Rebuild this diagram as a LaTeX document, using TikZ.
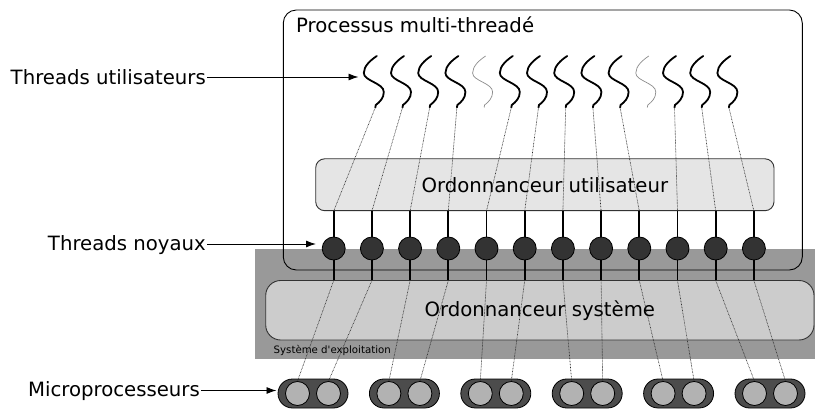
\documentclass[tikz,border=0pt]{standalone}
\usepackage{fontspec}
\setmainfont{DejaVu Sans}
\newfontfamily\rawsans{DejaVu Sans}[Ligatures=TeXOff]
\usetikzlibrary{arrows.meta}
\begin{document}
\begin{tikzpicture}[x=1pt,y=-1pt,
  lbl/.style={font=\fontsize{19.7}{24}\selectfont, inner sep=1pt},
  small/.style={font=\rawsans\fontsize{10.2}{12}\selectfont, inner sep=0pt},
  ptr/.style={-{Latex[length=10pt,width=7pt]}, line width=0.9pt},
  stem/.style={line width=1.8pt},
  dots/.style={line width=0.6pt, dash pattern=on 0.7pt off 0.8pt, black!85},
  thr/.style={line width=1.8pt, line cap=round},
  ghost/.style={line width=0.7pt, black!45},
  kball/.style={circle, draw=black, line width=0.8pt, fill=black!80, minimum size=23pt, inner sep=0pt},
  pillbox/.style={rectangle, draw=black, line width=0.8pt, fill=black!70, rounded corners=14.5pt, minimum width=70pt, minimum height=29pt, inner sep=0pt},
  cpu/.style={circle, draw=black, line width=0.8pt, fill=black!30, minimum size=24pt, inner sep=0pt},
  sched/.style={rectangle, draw=black!80, line width=0.9pt, inner sep=0pt}
]
\useasboundingbox (0,0) rectangle (815,409);
\fill[white] (0,0) rectangle (815,409);

% operating system band
\fill[black!40] (255,249.3) rectangle (815,359.3);
\node[small, anchor=base west] (os) at (273.5,353) {Système d'exploitation};

% process box
\node[draw, line width=0.9pt, rounded corners=13pt, minimum width=519pt, minimum height=260pt, inner sep=0pt] (proc) at (542.8,140) {};
\node[lbl, anchor=base west] (ptitle) at (295,33) {Processus multi-threadé};

% schedulers
\node[sched, fill=black!10, rounded corners=9pt, minimum width=458.3pt, minimum height=51.9pt] (us) at (544.85,184.75) {};
\node[lbl] at (us.center) {Ordonnanceur utilisateur};
\node[sched, fill=black!20, rounded corners=15pt, minimum width=548.3pt, minimum height=59.5pt] (ks) at (539.85,310.25) {};
\node[lbl] at (ks.center) {Ordonnanceur système};

% kernel threads
\foreach \i in {0,...,11} {
  \pgfmathsetmacro\bx{333.7+38.2*\i}
  \coordinate (s\i) at (\bx,211);
  \coordinate (t\i) at (\bx,280.5);
  \draw[stem] (s\i) -- (t\i);
  \node[kball] (k\i) at (\bx,248.5) {};
}

% user threads
\foreach \i/\st in {0/thr,1/thr,2/thr,3/thr,4/ghost,5/thr,6/thr,7/thr,8/thr,9/thr,10/ghost,11/thr,12/thr,13/thr} {
  \pgfmathsetmacro\cx{373.8+27.2*\i}
  \draw[\st] (\cx+3,56) .. controls (\cx-3,60) and (\cx-10,66) .. (\cx-10,73)
     .. controls (\cx-10,81) and (\cx+10,83) .. (\cx+10,92)
     .. controls (\cx+10,98) and (\cx+6,102) .. (\cx+2,105) -- (\cx+1.5,107.5);
  \coordinate (u\i) at (\cx+1.5,107.5);
}

% processors
\foreach \p in {0,...,5} {
  \pgfmathsetmacro\px{313+91.4*\p}
  \pgfmathtruncatemacro\a{2*\p}
  \pgfmathtruncatemacro\b{2*\p+1}
  \node[pillbox] (m\p) at (\px,393.5) {};
  \node[cpu] (c\a) at (\px-15.5,393.5) {};
  \node[cpu] (c\b) at (\px+15.5,393.5) {};
}

% mappings
\foreach \u/\k in {0/0,1/1,2/2,3/3,5/4,6/5,7/6,8/7,9/8,11/9,12/10,13/11} {
  \draw[dots] (u\u) -- (s\k);
}
\foreach \k in {0,...,11} {
  \draw[dots] (t\k) -- (c\k.north);
}

% labels
\coordinate (a1) at (358.5,77);
\coordinate (a2) at (316,244);
\coordinate (a3) at (276.5,390.5);
\node[lbl, anchor=base east] (lu) at (207,85) {Threads utilisateurs};
\node[lbl, anchor=base east] (ln) at (207,251) {Threads noyaux};
\node[lbl, anchor=base east] (lm) at (201,396) {Microprocesseurs};
\draw[ptr] (lu.east |- a1) -- (a1);
\draw[ptr] (ln.east |- a2) -- (a2);
\draw[ptr] (lm.east |- a3) -- (a3);
\end{tikzpicture}
\end{document}
